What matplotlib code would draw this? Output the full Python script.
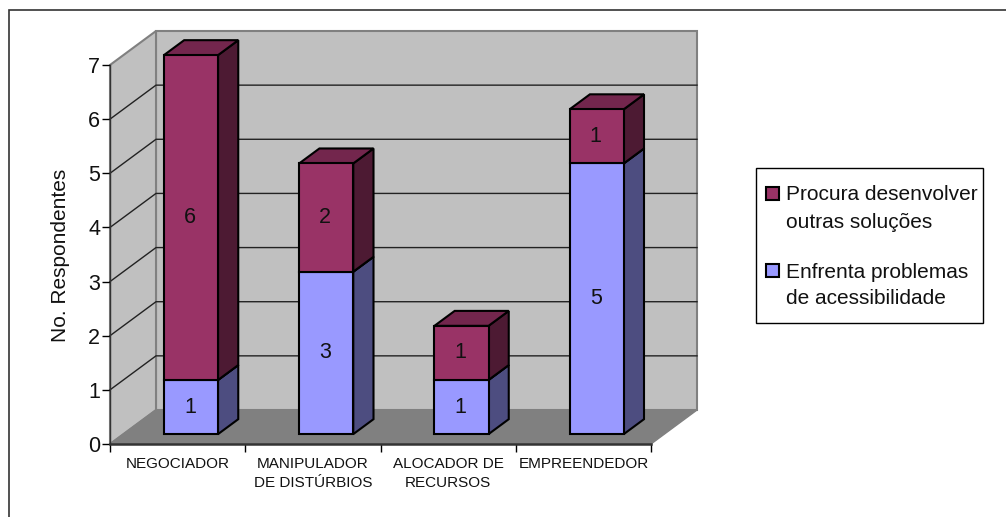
import matplotlib
matplotlib.use("Agg")
import matplotlib.pyplot as plt
from matplotlib.patches import Polygon, Rectangle

categorias = ["NEGOCIADOR", "MANIPULADOR\nDE DISTÚRBIOS", "ALOCADOR DE\nRECURSOS", "EMPREENDEDOR"]
enfrenta = [1, 3, 1, 5]
procura = [6, 2, 1, 1]
serie_enfrenta = "Enfrenta problemas\nde acessibilidade"
serie_procura = "Procura desenvolver\noutras soluções"
yticks = [0, 1, 2, 3, 4, 5, 6, 7]

W, H = 1006, 517
plt.rcParams["font.family"] = ["Liberation Sans", "DejaVu Sans"]

fig = plt.figure(figsize=(W / 100, H / 100), dpi=100)
# eixo no plano da frente do grafico 3D
ax = fig.add_axes([110 / W, 1 - 444 / H, 541 / W, 379 / H])
ax.set_xlim(0, 4)
ax.set_ylim(0, 7)
ax.patch.set_visible(False)

# profundidade em unidades de dados
DX = 46 / 541 * 4
DY = 34 / 379 * 7


def proj(x, y, d):
    return (x + d * DX, y + d * DY)


def poly(pts, **kw):
    ax.add_patch(Polygon(pts, closed=True, clip_on=False, **kw))


# paredes e chao
poly([proj(0, 0, 1), proj(4, 0, 1), proj(4, 7, 1), proj(0, 7, 1)], fc="#C0C0C0", ec="#808080", lw=1.5, zorder=1)
poly([proj(0, 0, 0), proj(0, 0, 1), proj(0, 7, 1), proj(0, 7, 0)], fc="#C0C0C0", ec="#808080", lw=1.5, zorder=1)
poly([proj(0, 0, 0), proj(4, 0, 0), proj(4, 0, 1), proj(0, 0, 1)], fc="#808080", ec="#808080", lw=1, zorder=1)

for v in yticks[1:-1]:
    xs, ys = zip(proj(0, v, 0), proj(0, v, 1), proj(4, v, 1))
    ax.plot(xs, ys, color="#222222", lw=1, clip_on=False, zorder=2)

# barras
LARG = 0.4
D0, D1 = 0.29, 0.73
pos = [i + 0.5 for i in range(len(categorias))]
fx, fy = proj(0, 0, D0)


def barra(x, base, valor, cor, lado, topo):
    esq = x - LARG / 2 + fx
    dir_ = x + LARG / 2 + fx
    y0 = base + fy
    y1 = base + valor + fy
    sx = (D1 - D0) * DX
    sy = (D1 - D0) * DY
    poly([(dir_, y0), (dir_ + sx, y0 + sy), (dir_ + sx, y1 + sy), (dir_, y1)], fc=lado, ec="black", lw=1.5, zorder=3)
    poly([(esq, y1), (dir_, y1), (dir_ + sx, y1 + sy), (esq + sx, y1 + sy)], fc=topo, ec="black", lw=1.5, zorder=3)
    ax.bar(x + fx, valor, LARG, bottom=y0, color=cor, edgecolor="black", lw=1.5, clip_on=False, zorder=4)
    ax.text(x + fx - 0.007, (y0 + y1) / 2, str(valor), ha="center", va="center", fontsize=15.5, color="#111111", zorder=5)


for i, x in enumerate(pos):
    barra(x, 0, enfrenta[i], "#9999FF", "#4D4D80", "#7373BF")
    barra(x, enfrenta[i], procura[i], "#993366", "#4D1A33", "#73264D")

# eixos
ax.spines["top"].set_visible(False)
ax.spines["right"].set_visible(False)
ax.spines["left"].set_color("#333333")
ax.spines["left"].set_linewidth(1)
ax.spines["bottom"].set_color("#333333")
ax.spines["bottom"].set_linewidth(1.8)
ax.set_zorder(1)
ax.set_yticks(yticks)
ax.tick_params(axis="y", labelsize=15.5, length=6, width=1, pad=1, labelcolor="#111111")
ax.set_xticks(range(5))
ax.set_xticklabels([])
ax.set_xticks(pos, minor=True)
ax.set_xticklabels(categorias, minor=True, fontsize=11, color="#111111", linespacing=1.5)
ax.tick_params(axis="x", which="major", length=6, width=1)
ax.tick_params(axis="x", which="minor", length=0, pad=9)
fig.text(60 / W, 1 - 255 / H, "No. Respondentes", rotation=90, ha="center", va="center", fontsize=15, color="#111111")


# legenda, marcador alinhado com a primeira linha do texto
def px(x, y):
    return x / W, 1 - y / H


fig.add_artist(Rectangle(px(756, 323), 227 / W, 155 / H, transform=fig.transFigure, fc="white", ec="black", lw=1))
for nome, cor, yl in [(serie_procura, "#993366", 193), (serie_enfrenta, "#9999FF", 270)]:
    fig.add_artist(Rectangle(px(765.5, yl + 6.5), 13 / W, 13 / H, transform=fig.transFigure, fc=cor, ec="black", lw=1.5))
    for j, linha in enumerate(nome.split("\n")):
        fig.text(*px(786, yl + j * 27), linha, ha="left", va="center_baseline", fontsize=15, color="#111111")

# moldura externa
fig.add_artist(Rectangle((8.5 / W, -0.1), (W + 20) / W, 1.1 - 9.5 / H, transform=fig.transFigure, fc="none", ec="#333333", lw=1.2))

fig.savefig("out.png", dpi=100)
plt.close(fig)
